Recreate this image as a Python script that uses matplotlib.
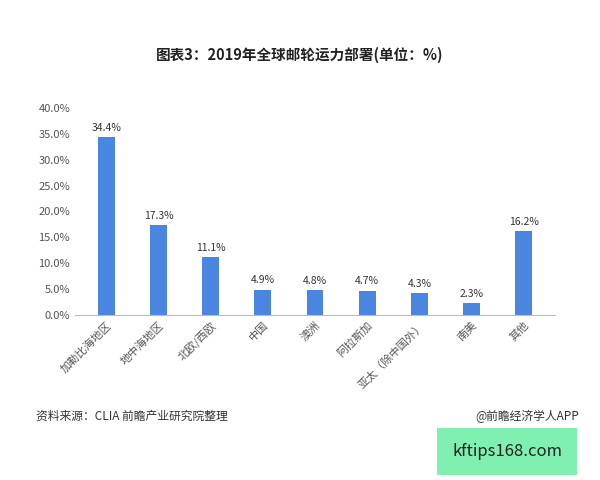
import matplotlib.pyplot as plt
from matplotlib.ticker import FuncFormatter

plt.rcParams['font.family'] = ['Noto Sans CJK SC', 'DejaVu Sans']

regions = ['加勒比海地区', '地中海地区', '北欧/西欧', '中国', '澳洲', '阿拉斯加',
           '亚太（除中国外）', '南美', '其他']
shares = [34.4, 17.3, 11.1, 4.9, 4.8, 4.7, 4.3, 2.3, 16.2]

fig = plt.figure(figsize=(6, 4.8), dpi=100)
ax = fig.add_axes([0.125, 0.344, 0.8, 0.431])
x = range(len(regions))
bars = ax.bar(x, shares, width=0.32, color='#4a86e0')
for b, v in zip(bars, shares):
    ax.text(b.get_x() + b.get_width() / 2, v + 0.8, '%.1f%%' % v,
            ha='center', va='bottom', fontsize=7.5, color='#333333')

ax.set_ylim(0, 40)
ax.set_yticks(range(0, 41, 5))
ax.yaxis.set_major_formatter(FuncFormatter(lambda v, p: '%.1f%%' % v))
ax.set_xlim(-0.6, len(regions) - 0.4)
ax.set_xticks(list(x))
ax.set_xticklabels(regions, rotation=45, ha='right', rotation_mode='anchor',
                   fontsize=8, color='#555555')
ax.tick_params(axis='y', labelsize=8, colors='#555555', length=0)
ax.tick_params(axis='x', length=0)
for s in ['top', 'right', 'left']:
    ax.spines[s].set_visible(False)
ax.spines['bottom'].set_color('#bbbbbb')

fig.text(0.5, 0.875, '图表3：2019年全球邮轮运力部署(单位：%)', ha='center',
         fontsize=10.5, fontweight='bold', color='#222222')
fig.text(0.06, 0.125, '资料来源：CLIA 前瞻产业研究院整理', fontsize=8.5, color='#333333')
fig.text(0.965, 0.125, '@前瞻经济学人APP', ha='right', fontsize=8.5, color='#333333')
fig.text(0.845, 0.06, 'kftips168.com', ha='center', va='center', fontsize=12,
         color='#222222',
         bbox=dict(boxstyle='square,pad=0.9', fc='#7ff0b0', ec='none'))

fig.savefig('out.png', dpi=100, facecolor='white')
